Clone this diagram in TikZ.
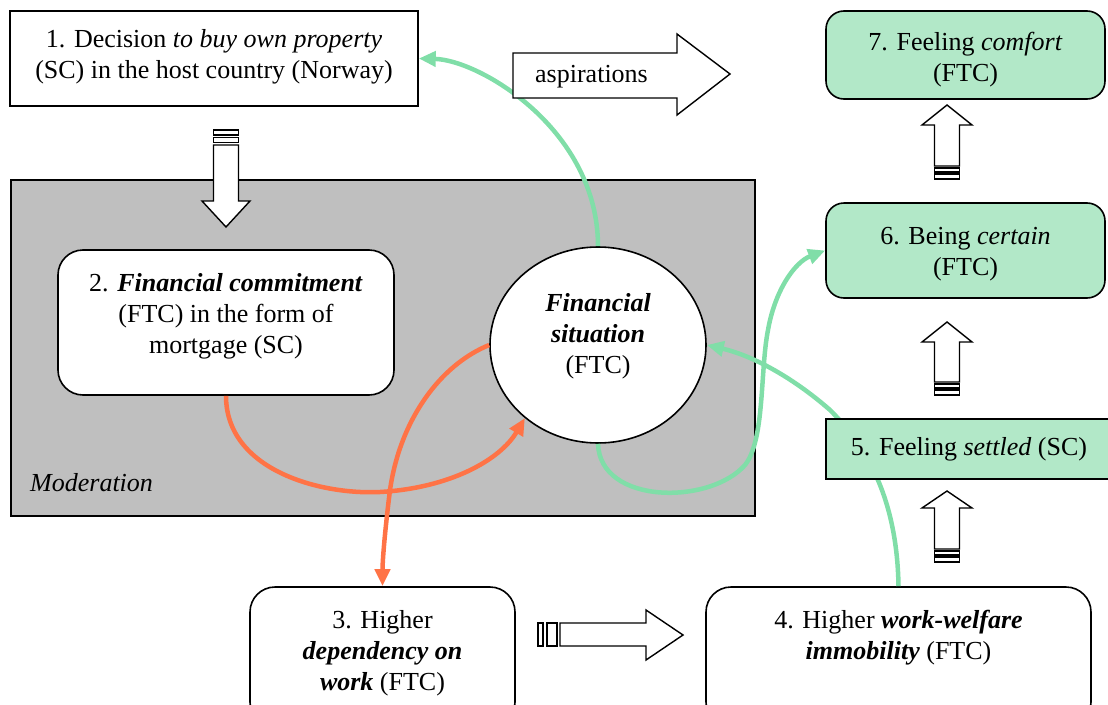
\documentclass[tikz,border=0pt]{standalone}
\usepackage{fontspec}
\setmainfont{Liberation Serif}
\usetikzlibrary{arrows.meta,shapes.geometric}
\definecolor{modgray}{RGB}{191,191,191}
\definecolor{mint}{RGB}{178,232,200}
\definecolor{linkgreen}{RGB}{128,222,168}
\definecolor{linkorange}{RGB}{255,115,70}
\begin{document}
\begin{tikzpicture}[x=1pt,y=-1pt,
  font=\fontsize{26}{31}\selectfont,
  frame/.style={draw=black, line width=1.6pt, inner sep=0pt, align=center},
  plainbox/.style={frame, fill=white},
  roundbox/.style={frame, fill=white, rounded corners=25},
  mintbox/.style={frame, fill=mint, rounded corners=18},
  mintplain/.style={frame, fill=mint},
  txt/.style={inner sep=0pt, align=center},
  blockarrow/.style={draw=black, fill=white, line width=1.4pt, line join=miter},
  greenlink/.style={draw=linkgreen, line width=4.5pt, -{Triangle[length=17pt,width=15pt]}},
  orangelink/.style={draw=linkorange, line width=4.5pt, -{Triangle[length=17pt,width=15pt]}}]
\useasboundingbox (0,0) rectangle (1108,704);
\clip (0,0) rectangle (1108,704);

% moderation area
\node[frame, fill=modgray, minimum width=744, minimum height=336, anchor=north west] (moderation) at (10,179) {};
\node[txt, anchor=west, font=\fontsize{26}{31}\selectfont\itshape] (modlabel) at (30,483) {Moderation};

% boxes
\node[plainbox, minimum width=408, minimum height=95] (decision) at (214,58.5) {};
\node[txt] (decisiontext) at (214,57)
  {1. Decision \textit{to buy own property}\\(SC) in the host country (Norway)};
\node[roundbox, minimum width=336, minimum height=145] (commit) at (226,322.5) {};
\node[txt] (committext) at (226,316)
  {2. \textbf{\textit{Financial commitment}}\\(FTC) in the form of\\mortgage (SC)};
\node[frame, fill=white, ellipse, minimum width=216, minimum height=196] (fin) at (598,345) {};
\node[txt] (fintext) at (598,336) {\textbf{\textit{Financial}}\\\textbf{\textit{situation}}\\(FTC)};
\node[roundbox, minimum width=265, minimum height=140] (dep) at (382.5,657) {};
\node[txt] (deptext) at (382.5,653) {3. Higher\\\textbf{\textit{dependency on}}\\\textbf{\textit{work}} (FTC)};
\node[roundbox, minimum width=385, minimum height=140] (welfare) at (898.5,657) {};
\node[txt] (welfaretext) at (898.5,638) {4. Higher \textbf{\textit{work-welfare}}\\\textbf{\textit{immobility}} (FTC)};
\node[mintbox, minimum width=279, minimum height=88] (comfort) at (965.5,55) {};
\node[txt] (comforttext) at (965.5,60) {7. Feeling \textit{comfort}\\(FTC)};
\node[mintbox, minimum width=279, minimum height=95] (certain) at (965.5,250.5) {};
\node[txt] (certaintext) at (965.5,254.5) {6. Being \textit{certain}\\(FTC)};

% block arrows
\draw[blockarrow] (213.5,130) rectangle (238.5,135);
\draw[blockarrow] (213.5,137.5) rectangle (238.5,142.5);
\draw[blockarrow] (213.5,145) -- (213.5,201) -- (202,201) -- (226,227) -- (250,201)
  -- (238.5,201) -- (238.5,145) -- cycle;

\draw[blockarrow] (538,623) rectangle (543,646);
\draw[blockarrow] (547,623) rectangle (557,646);
\draw[blockarrow] (560,623) -- (646,623) -- (646,610) -- (683,635) -- (646,660)
  -- (646,646) -- (560,646) -- cycle;

\foreach \tip/\base/\foot in {105/125/166, 322/342/382, 491/508/549}{
  \draw[blockarrow] (934.5,\foot) -- (934.5,\base) -- (922,\base) -- (947,\tip)
    -- (972,\base) -- (959.5,\base) -- (959.5,\foot) -- cycle;
  \draw[blockarrow] (934.5,\foot+2) rectangle (959.5,\foot+6);
  \draw[blockarrow] (934.5,\foot+8) rectangle (959.5,\foot+13);
}

% influence links
\draw[greenlink] (fin.north) .. controls (598,130) and (480,60) .. (decision.east);
\draw[greenlink] (fin.south) .. controls (600,505) and (710,505) .. (745,465)
  .. controls (765,440) and (760,370) .. (768,330)
  .. controls (775,290) and (795,262) .. (certain.west);
\draw[greenlink] (welfare.north) .. controls (897,490) and (860,440) .. (830,410)
  .. controls (790,375) and (750,355) .. (fin.east);
\draw[orangelink] (commit.south) .. controls (226,470) and (320,495) .. (380,492)
  .. controls (450,488) and (500,460) .. (fin.225);
\draw[orangelink] (fin.west) .. controls (440,365) and (400,420) .. (390,490)
  .. controls (385,530) and (382.5,560) .. (dep.north);

% shapes lying over the links
\draw[blockarrow] (513,53) -- (677,53) -- (677,34) -- (730,74) -- (677,115)
  -- (677,98) -- (513,98) -- cycle;
\node[txt] (asp) at (591.5,77) {aspirations};
\node[mintplain, minimum width=286, minimum height=60] (settled) at (969,449)
  {5. Feeling \textit{settled} (SC)};
\end{tikzpicture}
\end{document}
